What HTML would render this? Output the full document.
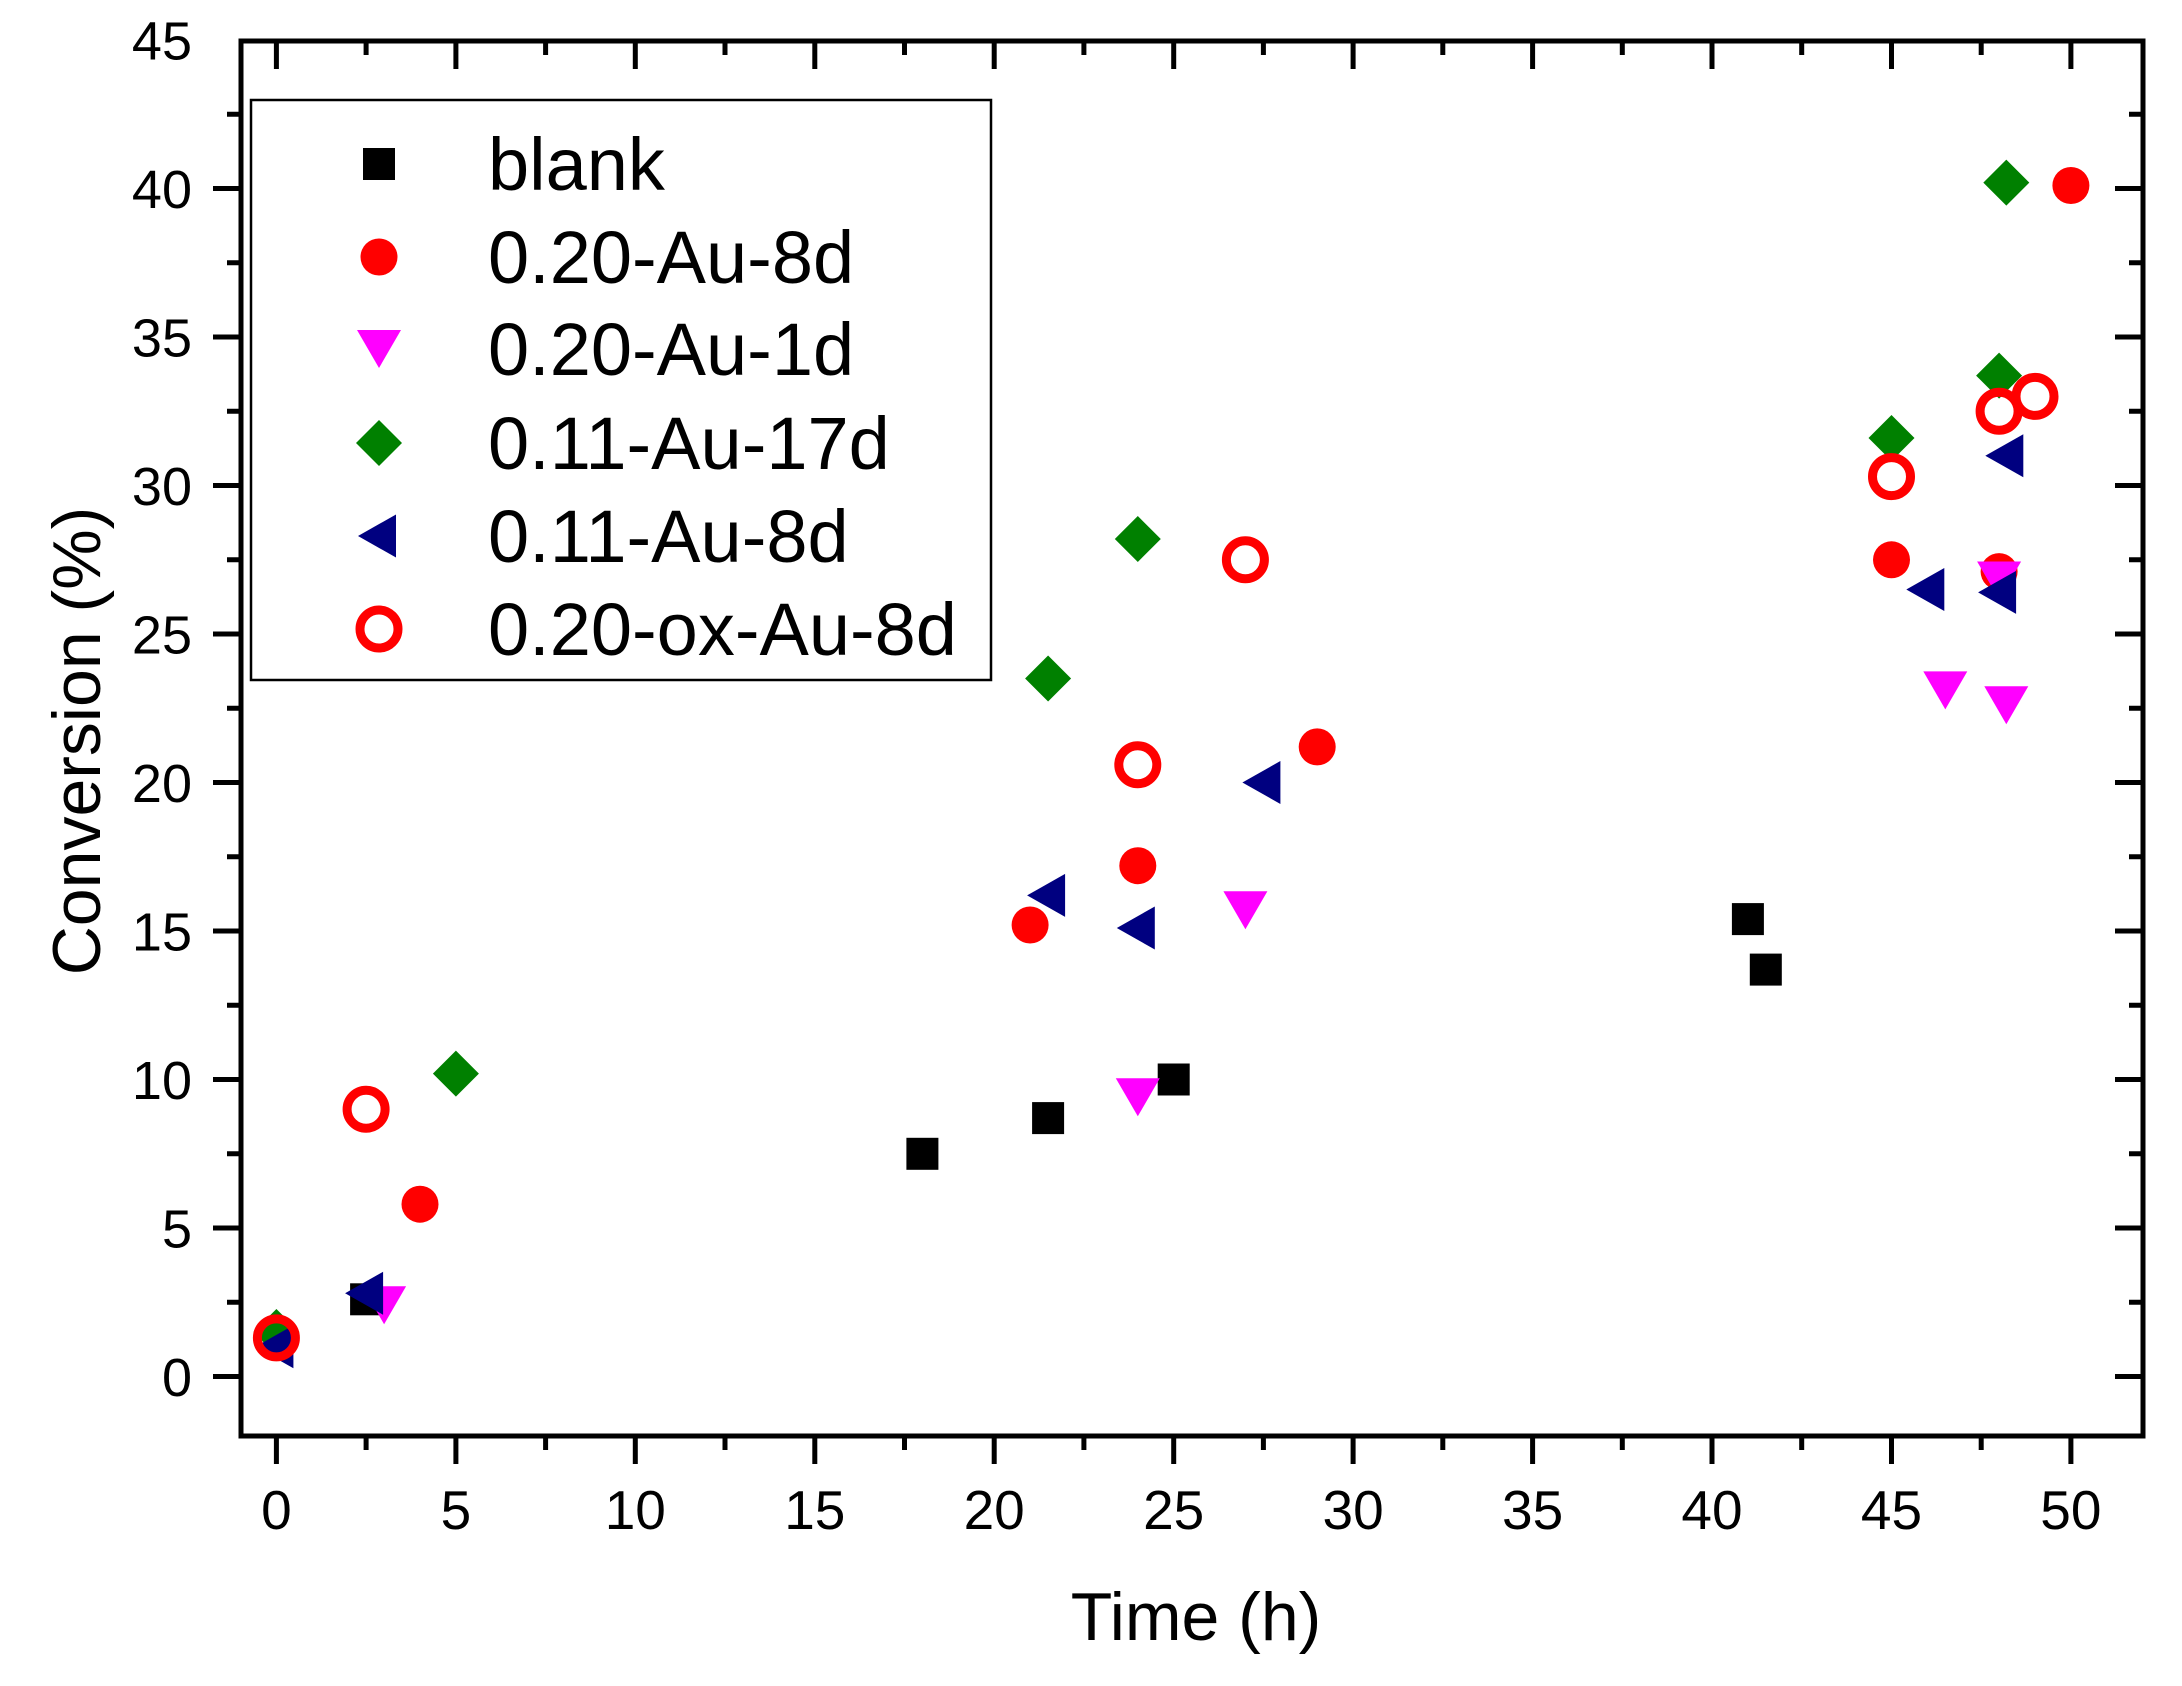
<!DOCTYPE html>
<html><head><meta charset="utf-8"><style>html,body{margin:0;padding:0;background:#fff}svg{display:block}</style></head>
<body>
<svg width="2182" height="1686" viewBox="0 0 2182 1686" xmlns="http://www.w3.org/2000/svg" font-family="Liberation Sans, Arial, sans-serif">
<defs>
<rect id="sq" x="-16" y="-16" width="32" height="32" fill="#000"/>
<circle id="ci" r="18.5" fill="#ff0000"/>
<polygon id="dn" points="-22,-19 22,-19 0,19" fill="#ff00ff"/>
<polygon id="di" points="0,-23 23,0 0,23 -23,0" fill="#008000"/>
<polygon id="lt" points="-21,0 17,-21.5 17,21.5" fill="#000080"/>
<circle id="oc" r="19" fill="none" stroke="#ff0000" stroke-width="9"/>
</defs>
<rect x="241" y="41" width="1902" height="1395" fill="none" stroke="#000" stroke-width="5"/>
<g stroke="#000" stroke-width="5">
<path d="M276.4 1436v28M366.1 1436v14M455.9 1436v28M545.6 1436v14M635.3 1436v28M725 1436v14M814.8 1436v28M904.5 1436v14M994.2 1436v28M1083.9 1436v14M1173.7 1436v28M1263.4 1436v14M1353.1 1436v28M1442.8 1436v14M1532.6 1436v28M1622.3 1436v14M1712 1436v28M1801.7 1436v14M1891.5 1436v28M1981.2 1436v14M2070.9 1436v28"/>
<path d="M276.4 41v28M366.1 41v14M455.9 41v28M545.6 41v14M635.3 41v28M725 41v14M814.8 41v28M904.5 41v14M994.2 41v28M1083.9 41v14M1173.7 41v28M1263.4 41v14M1353.1 41v28M1442.8 41v14M1532.6 41v28M1622.3 41v14M1712 41v28M1801.7 41v14M1891.5 41v28M1981.2 41v14M2070.9 41v28"/>
<path d="M241 1376.5h-28M241 1302.3h-14M241 1228h-28M241 1153.8h-14M241 1079.5h-28M241 1005.3h-14M241 931h-28M241 856.8h-14M241 782.5h-28M241 708.3h-14M241 634h-28M241 559.8h-14M241 485.5h-28M241 411.3h-14M241 337h-28M241 262.8h-14M241 188.5h-28M241 114.3h-14"/>
<path d="M2143 1376.5h-28M2143 1302.3h-14M2143 1228h-28M2143 1153.8h-14M2143 1079.5h-28M2143 1005.3h-14M2143 931h-28M2143 856.8h-14M2143 782.5h-28M2143 708.3h-14M2143 634h-28M2143 559.8h-14M2143 485.5h-28M2143 411.3h-14M2143 337h-28M2143 262.8h-14M2143 188.5h-28M2143 114.3h-14"/>
</g>
<g font-size="55" text-anchor="middle" fill="#000">
<text x="276.4" y="1529">0</text><text x="455.9" y="1529">5</text><text x="635.3" y="1529">10</text><text x="814.8" y="1529">15</text><text x="994.2" y="1529">20</text><text x="1173.7" y="1529">25</text><text x="1353.1" y="1529">30</text><text x="1532.6" y="1529">35</text><text x="1712" y="1529">40</text><text x="1891.5" y="1529">45</text><text x="2070.9" y="1529">50</text>
</g>
<g font-size="54" text-anchor="end" fill="#000">
<text x="192" y="1396">0</text><text x="192" y="1247.5">5</text><text x="192" y="1099">10</text><text x="192" y="950.5">15</text><text x="192" y="802">20</text><text x="192" y="653.5">25</text><text x="192" y="505">30</text><text x="192" y="356.5">35</text><text x="192" y="208">40</text><text x="192" y="59.5">45</text>
</g>
<text x="1196" y="1640" font-size="68" text-anchor="middle">Time (h)</text>
<text transform="translate(100,741) rotate(-90)" font-size="68" text-anchor="middle">Conversion (%)</text>
<g>
<use href="#sq" x="366.1" y="1299.3"/><use href="#sq" x="922.4" y="1153.8"/><use href="#sq" x="1048.1" y="1118.1"/><use href="#sq" x="1173.7" y="1079.5"/><use href="#sq" x="1747.9" y="919.1"/><use href="#sq" x="1765.8" y="969.6"/>
<use href="#ci" x="420" y="1204.2"/><use href="#ci" x="1030.1" y="925"/><use href="#ci" x="1137.8" y="865.7"/><use href="#ci" x="1317.2" y="746.9"/><use href="#ci" x="1891.5" y="559.8"/><use href="#ci" x="1999.1" y="571.6"/><use href="#ci" x="2070.9" y="185.5"/>
<use href="#dn" x="384.1" y="1305.2"/><use href="#dn" x="1137.8" y="1097.3"/><use href="#dn" x="1245.4" y="910.2"/><use href="#dn" x="1945.3" y="690.4"/><use href="#dn" x="2006.3" y="705.3"/><use href="#dn" x="1999.1" y="580.5"/>
<use href="#di" x="276.4" y="1332"/><use href="#di" x="455.9" y="1073.6"/><use href="#di" x="1048.1" y="678.5"/><use href="#di" x="1137.8" y="539"/><use href="#di" x="1891.5" y="438"/><use href="#di" x="1999.1" y="375.6"/><use href="#di" x="2006.3" y="182.6"/>
<use href="#lt" x="276.4" y="1346.8"/><use href="#lt" x="366.1" y="1293.3"/><use href="#lt" x="1048.1" y="895.4"/><use href="#lt" x="1137.8" y="928"/><use href="#lt" x="1263.4" y="782.5"/><use href="#lt" x="1927.3" y="589.5"/><use href="#lt" x="1999.1" y="592.4"/><use href="#lt" x="2006.3" y="455.8"/>
<use href="#oc" x="276.4" y="1337.9"/><use href="#oc" x="366.1" y="1109.2"/><use href="#oc" x="1137.8" y="764.7"/><use href="#oc" x="1245.4" y="559.8"/><use href="#oc" x="1891.5" y="476.6"/><use href="#oc" x="1999.1" y="411.3"/><use href="#oc" x="2035" y="396.4"/>
</g>
<rect x="251" y="100" width="740" height="580" fill="none" stroke="#000" stroke-width="2.5"/>
<g font-size="74" fill="#000">
<use href="#sq" x="379" y="164"/><text x="488" y="190">blank</text>
<use href="#ci" x="379" y="257"/><text x="488" y="283">0.20-Au-8d</text>
<use href="#dn" x="379" y="349"/><text x="488" y="375">0.20-Au-1d</text>
<use href="#di" x="379" y="443"/><text x="488" y="469">0.11-Au-17d</text>
<use href="#lt" x="379" y="536"/><text x="488" y="562">0.11-Au-8d</text>
<use href="#oc" x="379" y="629"/><text x="488" y="655">0.20-ox-Au-8d</text>
</g>
</svg>
</body></html>
